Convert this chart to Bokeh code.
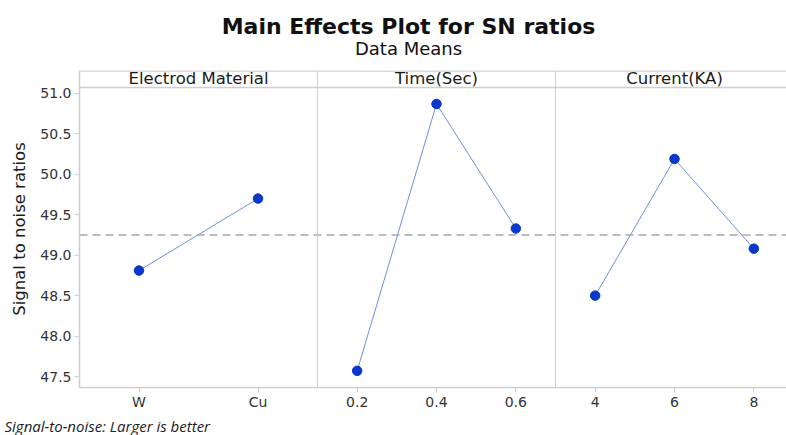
from bokeh.plotting import figure
from bokeh.models import Range1d, Span, FixedTicker, PrintfTickFormatter
from bokeh.core.properties import value
from bokeh.embed import file_html
from bokeh.resources import INLINE

# ---- data ----
factor_names = ["Electrod Material", "Time(Sec)", "Current(KA)"]
material_levels = ["W", "Cu"]
material_sn = [48.81, 49.70]
time_levels = ["0.2", "0.4", "0.6"]
time_sn = [47.57, 50.87, 49.33]
current_levels = ["4", "6", "8"]
current_sn = [48.50, 50.19, 49.08]
overall_mean = 49.25
y_ticks = [47.5, 48.0, 48.5, 49.0, 49.5, 50.0, 50.5, 51.0]
title_text = "Main Effects Plot for SN ratios"
subtitle_text = "Data Means"
footnote_text = "Signal-to-noise: Larger is better"

panels = list(zip(factor_names,
                  [material_levels, time_levels, current_levels],
                  [material_sn, time_sn, current_sn]))

# ---- layout constants ----
W = 786
TITLE_H, MAIN_H, FOOT_H = 60, 355, 20
LEFT, TOP, BOTTOM = 79, 10, 28
PANEL_PX = 238.0
BASE_FIX = 5  # svg baseline compensation (px)
frame_w = W - LEFT
frame_h = MAIN_H - TOP - BOTTOM
y_lo, y_hi = 47.364, 51.284
ppu = frame_h / (y_hi - y_lo)
header_bottom = y_hi - 17 / ppu
header_base = y_hi - (12.7 - BASE_FIX) / ppu

FONT = "DejaVu Sans"
GRAY = "#cfcfcf"
POINT = "#0a37cc"
LINE = "#6d8fe3"


def blank(h):
    f = figure(width=W, height=h, output_backend="svg", toolbar_location=None,
               x_range=Range1d(0, W), y_range=Range1d(h, 0),
               min_border=0, min_border_left=0, min_border_right=0,
               min_border_top=0, min_border_bottom=0)
    f.axis.visible = False
    f.grid.visible = False
    f.outline_line_color = None
    f.background_fill_color = "white"
    f.border_fill_color = "white"
    return f


# ---- title block ----
pt = blank(TITLE_H)
pt.text(x=[408], y=[31 - BASE_FIX], text=[title_text], text_align="center",
        text_baseline="alphabetic", text_font=value(FONT), text_font_size="22px",
        text_font_style="bold", text_color="#111111")
pt.text(x=[408], y=[52.7 - BASE_FIX], text=[subtitle_text], text_align="center",
        text_baseline="alphabetic", text_font=value(FONT), text_font_size="18px",
        text_color="#111111")

# ---- main panels ----
p = figure(width=W, height=MAIN_H, output_backend="svg", toolbar_location=None,
           x_range=Range1d(0, frame_w / PANEL_PX), y_range=Range1d(y_lo, y_hi),
           min_border_left=LEFT, min_border_right=0, min_border_top=TOP,
           min_border_bottom=BOTTOM)
p.outline_line_color = None
p.xgrid.visible = False
p.ygrid.visible = False
p.background_fill_color = "white"
p.border_fill_color = "white"

tick_pos = []
overrides = {}
for k, (name, levels, vals) in enumerate(panels):
    n = len(levels)
    xs = [round(k + (i + 0.5) / n, 6) for i in range(n)]
    tick_pos += xs
    for x, lab in zip(xs, levels):
        overrides[x] = lab
    p.line(xs, vals, line_color=LINE, line_width=1)
    p.scatter(xs, vals, size=9.5, fill_color=POINT, line_color=POINT)

p.text(x=[k + 0.5 for k in range(len(panels))], y=[header_base] * len(panels),
       text=factor_names, text_align="center", text_baseline="alphabetic",
       text_font=value(FONT), text_font_size="16.5px", text_color="#1a1a1a")

p.add_layout(Span(location=overall_mean, dimension="width", line_color="#a8a8a8",
                  line_width=1.5, line_dash="8 5"))
for xb in [1, 2]:
    p.add_layout(Span(location=xb, dimension="height", line_color=GRAY, line_width=1))
p.add_layout(Span(location=header_bottom, dimension="width", line_color=GRAY, line_width=1.5))
p.add_layout(Span(location=y_hi - 0.6 / ppu, dimension="width", line_color=GRAY, line_width=1.5))

p.xaxis.ticker = FixedTicker(ticks=tick_pos)
p.xaxis.major_label_overrides = overrides
p.yaxis.ticker = FixedTicker(ticks=y_ticks)
p.yaxis.formatter = PrintfTickFormatter(format="%.1f")
for ax in (p.xaxis[0], p.yaxis[0]):
    ax.axis_line_color = GRAY
    ax.axis_line_width = 1.5
    ax.major_tick_line_color = GRAY
    ax.major_tick_out = 5
    ax.major_tick_in = 0
    ax.minor_tick_line_color = None
    ax.major_label_text_font = FONT
    ax.major_label_text_font_size = "14px"
    ax.major_label_text_color = "#333333"
p.xaxis.major_label_standoff = 1
p.yaxis.major_label_standoff = 3
p.yaxis.axis_label = "Signal to noise ratios"
p.yaxis.axis_label_text_font = FONT
p.yaxis.axis_label_text_font_size = "16.5px"
p.yaxis.axis_label_text_font_style = "normal"
p.yaxis.axis_label_text_color = "#1a1a1a"
p.yaxis.axis_label_standoff = 8

# ---- footnote ----
pf = blank(FOOT_H)
pf.text(x=[4], y=[15.0 - BASE_FIX], text=[footnote_text], text_align="left",
        text_baseline="alphabetic", text_font=value("Open Sans"), text_font_size="15px",
        text_font_style="italic", text_color="#222222")

open("out.html", "w").write(file_html([pt, p, pf], INLINE))
